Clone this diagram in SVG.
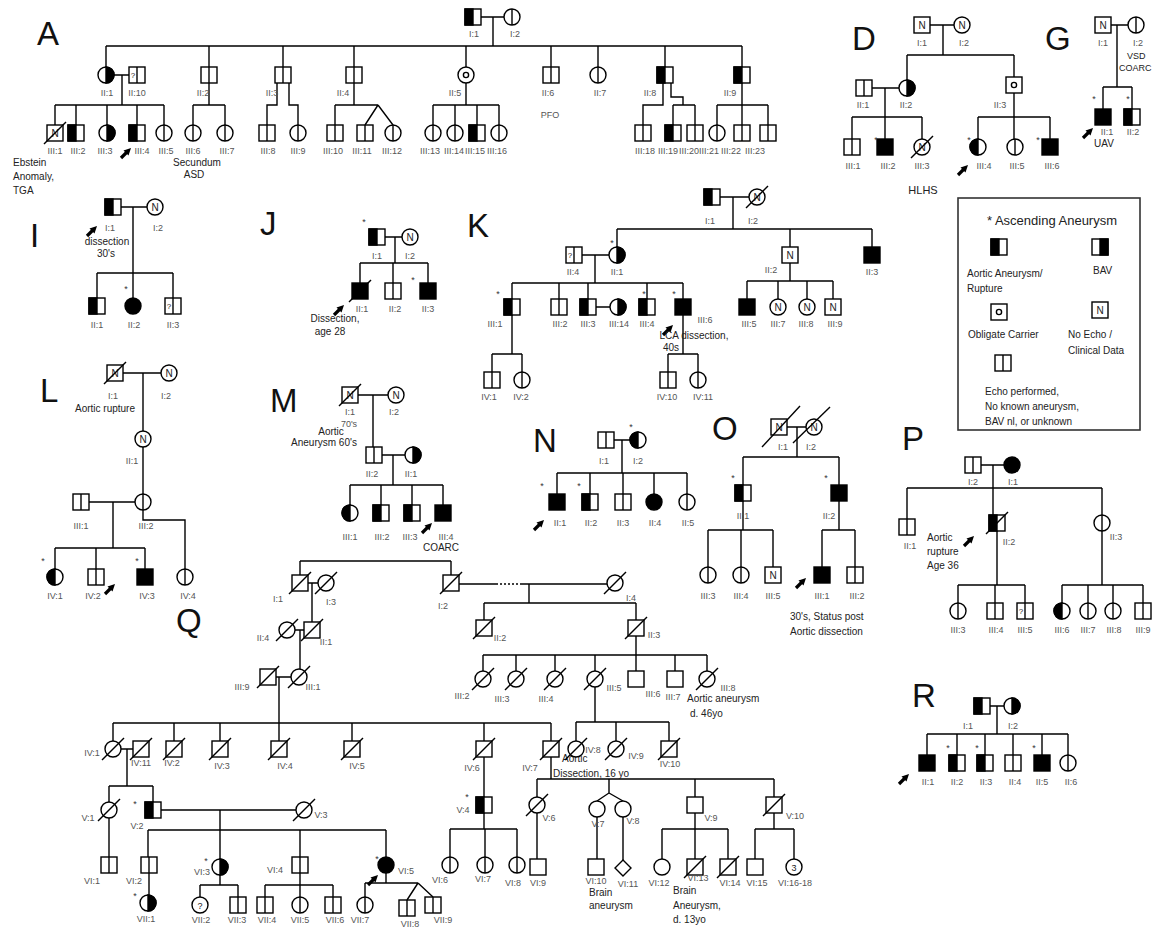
<svg xmlns="http://www.w3.org/2000/svg" width="1153" height="929" viewBox="0 0 1153 929">
<style>
.s{fill:#fff;stroke:#000;stroke-width:1.4}
.k{fill:#000;stroke:#000;stroke-width:1.4}
.ln{fill:none;stroke:#000;stroke-width:1.4}
.lb{font-family:"Liberation Sans",Arial,sans-serif;font-size:9px;fill:#555;text-anchor:middle}
.nt{font-family:"Liberation Sans",Arial,sans-serif;font-size:10px;fill:#222}
.ntc{font-family:"Liberation Sans",Arial,sans-serif;font-size:10px;fill:#222;text-anchor:middle}
.big{font-family:"Liberation Sans",Arial,sans-serif;font-size:33px;fill:#111}
.as{font-family:"Liberation Sans",Arial,sans-serif;font-size:9px;fill:#333;text-anchor:middle}
.in{font-family:"Liberation Sans",Arial,sans-serif;font-size:10px;fill:#222;text-anchor:middle}
</style>
<defs>
<g id="sq"><rect class="s" x="-8" y="-8" width="16" height="16"/></g>
<g id="sqV"><rect class="s" x="-8" y="-8" width="16" height="16"/><path class="ln" d="M0,-8V8"/></g>
<g id="sqQ"><rect class="s" x="-8" y="-8" width="16" height="16"/><path class="ln" d="M0,-8V8"/><text class="in" x="-4" y="3" style="font-size:8px">?</text></g>
<g id="sqL"><rect class="s" x="-8" y="-8" width="16" height="16"/><rect class="k" x="-8" y="-8" width="8" height="16"/></g>
<g id="sqR"><rect class="s" x="-8" y="-8" width="16" height="16"/><rect class="k" x="0" y="-8" width="8" height="16"/></g>
<g id="sqF"><rect class="k" x="-8" y="-8" width="16" height="16"/></g>
<g id="sqN"><rect class="s" x="-8" y="-8" width="16" height="16"/><text class="in" x="0" y="4">N</text></g>
<g id="sqO"><rect class="s" x="-8" y="-8" width="16" height="16"/><circle class="s" r="2.6"/></g>
<g id="ci"><circle class="s" r="8"/></g>
<g id="ciV"><circle class="s" r="8"/><path class="ln" d="M0,-8V8"/></g>
<g id="ciL"><circle class="s" r="8"/><path class="k" d="M0,-8A8,8 0 0 0 0,8Z"/></g>
<g id="ciR"><circle class="s" r="8"/><path class="k" d="M0,-8A8,8 0 0 1 0,8Z"/></g>
<g id="ciF"><circle class="k" r="8"/></g>
<g id="ciN"><circle class="s" r="8"/><text class="in" x="0" y="4">N</text></g>
<g id="ciO"><circle class="s" r="8"/><circle class="s" r="2.6"/></g>
<g id="ciQ"><circle class="s" r="8"/><text class="in" x="0" y="3.5" style="font-size:9px">?</text></g>
<g id="ci3"><circle class="s" r="8"/><text class="in" x="0" y="3.5" style="font-size:9px">3</text></g>
<g id="dm"><path class="s" d="M0,-8L8,0L0,8L-8,0Z"/></g>
<g id="x"><path class="ln" d="M-11,11L11,-11"/></g>
<g id="ar"><path d="M0,0L6,-6" stroke="#000" stroke-width="3.2" fill="none"/><polygon points="10,-10 2.5,-7.5 7.5,-2.5" fill="#000"/></g>
</defs>
<rect width="1153" height="929" fill="#fff"/>

<g id="connectors" class="ln">
<path d="M481,17H504M493,17V46M106,46H742M106,46V67M209,46V67M283,46V67M354,46V67M466,46V67M551,46V67M598,46V67M665,46V67M742,46V67"/>
<path d="M114,75H129M122,75V105M55,105H164M55,105V125M76,105V125M107,105V125M137,105V125M164,105V125"/>
<path d="M209,83V105M193,105H225M193,105V125M225,105V125M277,83V105H267V125M289,83V105H298V125"/>
<path d="M354,83V105M335,105H378M335,105V125M378,105L365,125M378,105L393,125"/>
<path d="M466,83V105M433,105H499M433,105V125M455,105V125M477,105V125M499,105V125"/>
<path d="M663,83V105H643V125M671,83V97H683V105M673,105H695M673,105V125M695,105V125M742,83V105M717,105H768M717,105V125M742,105V125M768,105V125"/>
<path d="M930,25H954M943,25V55M907,55H1014M907,55V80M1014,55V77M872,88H899M885,88V117M852,117H922M852,117V139M885,117V139M922,117V139M1014,93V117M978,117H1050M978,117V139M1014,117V139M1050,117V139"/>
<path d="M1111,25H1128M1117,25V87M1103,87H1132M1103,87V109M1132,87V109"/>
<path d="M121,207H147M133,207V273M97,273H173M97,273V298M133,273V298M173,273V298"/>
<path d="M385,237H402M395,237V263M360,263H428M360,263V283M393,263V283M428,263V283"/>
<path d="M720,197H749M733,197V229M617,229H872M617,229V247M790,229V247M872,229V247M582,255H609M595,255V283M512,283H683M512,283V299M559,283V299M588,283V299M647,283V299M683,283V299M596,307H610M512,315V354M492,354H522M492,354V372M522,354V372M683,315V354M668,354H698M668,354V372M698,354V372M790,263V281M747,281H833M747,281V299M778,281V299M807,281V299M833,281V299"/>
<path d="M123,373H161M143,373V431M143,447V494M89,502H135M113,502V548M55,548H145M55,548V569M96,548V569M145,548V569M143,510V520H185V569"/>
<path d="M358,395H388M373,395V447M382,455H405M393,455V485M350,485H443M350,485V505M381,485V505M412,485V505M443,485V505"/>
<path d="M614,440H630M622,440V473M557,473H687M557,473V494M590,473V494M623,473V494M654,473V494M687,473V494"/>
<path d="M787,427H806M797,427V457M743,457H839M743,457V485M839,457V485M743,501V530M708,530H773M708,530V567M741,530V567M773,530V567M839,501V530M822,530H855M822,530V567M855,530V567"/>
<path d="M981,465H1004M993,465V515M907,488H1102M907,488V519M1102,488V515M997,531V585M958,585H1025M958,585V603M995,585V603M1025,585V603M1102,531V585M1062,585H1143M1062,585V603M1088,585V603M1113,585V603M1143,585V603"/>
<path d="M990,706H1004M997,706V734M927,734H1068M927,734V755M957,734V755M985,734V755M1013,734V755M1042,734V755M1068,734V755"/>
<path d="M300,561H451M300,561V575M451,561V575M308,583H318M312,583V622M295,630H304M300,630V669M276,677H291M279,677V723"/>
<path d="M113,723H551M113,723V741M174,723V741M220,723V741M279,723V741M352,723V741M484,723V741M551,723V741"/>
<path d="M459,584H496M521,584H607M529,584V603M484,603H636M484,603V620M636,603V620"/>
<path d="M496,584H521" stroke-dasharray="2,2"/>
<path d="M636,636V655M483,655H707M483,655V671M516,655V671M555,655V671M595,655V671M636,655V671M675,655V671M707,655V671M595,687V722M576,722H669M576,722V741M616,722V741M669,722V741"/>
<path d="M121,749H133M127,749V786M109,786H153M109,786V802M153,786V802M161,810H296M220,810V859M148,830H386M148,830V857M300,830V857M386,830V857M109,818V857M149,873V895"/>
<path d="M220,875V885M200,885H238M200,885V897M238,885V897M300,873V897M265,885H333M265,885V897M333,885V897M386,873V883M365,883H418M365,883V897M418,883L407,900M418,883L433,897"/>
<path d="M484,757V797M484,813V829M450,829H517M450,829V857M485,829V857M517,829V857"/>
<path d="M551,757V779M537,779H774M537,779V797M609,779V793L597,801M609,793L623,801M695,779V797M774,779V797M537,813V859M597,817V859M623,817V860"/>
<path d="M695,813V829M662,829H728M662,829V859M695,829V859M728,829V859M774,813V829M755,829H794M755,829V859M794,829V859"/>
</g>

<g id="panel-labels" class="big">
<text x="37" y="45">A</text><text x="852" y="50">D</text><text x="1045" y="50">G</text><text x="30" y="247">I</text><text x="260" y="235">J</text><text x="467" y="237">K</text><text x="40" y="402">L</text><text x="270" y="412">M</text><text x="533" y="452">N</text><text x="712" y="440">O</text><text x="902" y="450">P</text><text x="176" y="632">Q</text><text x="912" y="707">R</text>
</g>

<!-- Panel A -->
<g id="A-I1"><use href="#sqL" x="473" y="17"/><text class="lb" x="474" y="37">I:1</text></g>
<g id="A-I2"><use href="#ciV" x="512" y="17"/><text class="lb" x="515" y="37">I:2</text></g>
<g id="A-II1"><use href="#ciR" x="106" y="75"/><text class="lb" x="107" y="96">II:1</text></g>
<g id="A-II10"><use href="#sqQ" x="137" y="75"/><text class="lb" x="137" y="96">II:10</text></g>
<g id="A-II2"><use href="#sqV" x="209" y="75"/><text class="lb" x="203" y="96">II:2</text></g>
<g id="A-II3"><use href="#sqV" x="283" y="75"/><text class="lb" x="272" y="96">II:3</text></g>
<g id="A-II4"><use href="#sqV" x="354" y="75"/><text class="lb" x="343" y="96">II:4</text></g>
<g id="A-II5"><use href="#ciO" x="466" y="75"/><text class="lb" x="455" y="96">II:5</text></g>
<g id="A-II6"><use href="#sqV" x="551" y="75"/><text class="lb" x="548" y="96">II:6</text><text class="lb" x="550" y="118">PFO</text></g>
<g id="A-II7"><use href="#ciV" x="598" y="75"/><text class="lb" x="600" y="96">II:7</text></g>
<g id="A-II8"><use href="#sqL" x="665" y="75"/><text class="lb" x="650" y="96">II:8</text></g>
<g id="A-II9"><use href="#sqL" x="742" y="75"/><text class="lb" x="730" y="96">II:9</text></g>
<g id="A-III1"><use href="#sqN" x="55" y="133"/><use href="#x" x="55" y="133"/><text class="lb" x="55" y="154">III:1</text></g>
<g id="A-III2"><use href="#sqL" x="76" y="133"/><text class="lb" x="78" y="154">III:2</text></g>
<g id="A-III3"><use href="#ciR" x="107" y="133"/><text class="lb" x="105" y="154">III:3</text></g>
<g id="A-III4"><use href="#sqL" x="137" y="133"/><use href="#ar" x="121" y="158"/><text class="lb" x="142" y="154">III:4</text></g>
<g id="A-III5"><use href="#ciV" x="164" y="133"/><text class="lb" x="166" y="154">III:5</text></g>
<g id="A-III6"><use href="#ciV" x="193" y="133"/><text class="lb" x="193" y="154">III:6</text></g>
<g id="A-III7"><use href="#ciV" x="225" y="133"/><text class="lb" x="227" y="154">III:7</text></g>
<g id="A-III8"><use href="#sqV" x="267" y="133"/><text class="lb" x="268" y="154">III:8</text></g>
<g id="A-III9"><use href="#ciV" x="298" y="133"/><text class="lb" x="298" y="154">III:9</text></g>
<g id="A-III10"><use href="#sqV" x="335" y="133"/><text class="lb" x="333" y="154">III:10</text></g>
<g id="A-III11"><use href="#sqV" x="365" y="133"/><text class="lb" x="362" y="154">III:11</text></g>
<g id="A-III12"><use href="#ciV" x="393" y="133"/><text class="lb" x="392" y="154">III:12</text></g>
<g id="A-III13"><use href="#ciV" x="433" y="133"/><text class="lb" x="430" y="154">III:13</text></g>
<g id="A-III14"><use href="#ciV" x="455" y="133"/><text class="lb" x="454" y="154">III:14</text></g>
<g id="A-III15"><use href="#sqL" x="477" y="133"/><text class="lb" x="475" y="154">III:15</text></g>
<g id="A-III16"><use href="#ciV" x="499" y="133"/><text class="lb" x="497" y="154">III:16</text></g>
<g id="A-III18"><use href="#sqV" x="643" y="133"/><text class="lb" x="645" y="154">III:18</text></g>
<g id="A-III19"><use href="#sqL" x="673" y="133"/><text class="lb" x="668" y="154">III:19</text></g>
<g id="A-III20"><use href="#sqV" x="695" y="133"/><text class="lb" x="689" y="154">III:20</text></g>
<g id="A-III21"><use href="#ciV" x="717" y="133"/><text class="lb" x="709" y="154">III:21</text></g>
<g id="A-III22"><use href="#sqV" x="742" y="133"/><text class="lb" x="731" y="154">III:22</text></g>
<g id="A-III23"><use href="#sqV" x="768" y="133"/><text class="lb" x="755" y="154">III:23</text></g>
<g id="A-notes"><text class="nt" x="13" y="166">Ebstein</text><text class="nt" x="13" y="180">Anomaly,</text><text class="nt" x="13" y="194">TGA</text><text class="ntc" x="197" y="166">Secundum</text><text class="ntc" x="194" y="178">ASD</text></g>

<!-- Panel D -->
<g id="D-I1"><use href="#sqN" x="922" y="25"/><text class="lb" x="922" y="46">I:1</text></g>
<g id="D-I2"><use href="#ciN" x="962" y="25"/><text class="lb" x="964" y="46">I:2</text></g>
<g id="D-II1"><use href="#sqV" x="864" y="88"/><text class="lb" x="863" y="108">II:1</text></g>
<g id="D-II2"><use href="#ciR" x="907" y="88"/><text class="lb" x="906" y="108">II:2</text></g>
<g id="D-II3"><use href="#sqO" x="1014" y="85"/><text class="lb" x="1000" y="108">II:3</text></g>
<g id="D-III1"><use href="#sqV" x="852" y="147"/><text class="lb" x="853" y="169">III:1</text></g>
<g id="D-III2"><use href="#sqF" x="885" y="147"/><text class="as" x="876" y="143">*</text><text class="lb" x="888" y="169">III:2</text></g>
<g id="D-III3"><use href="#ciN" x="922" y="147"/><use href="#x" x="922" y="147"/><text class="lb" x="922" y="169">III:3</text><text class="ntc" x="923" y="194" style="font-size:11px">HLHS</text></g>
<g id="D-III4"><use href="#ciL" x="978" y="147"/><text class="as" x="969" y="143">*</text><use href="#ar" x="958" y="175"/><text class="lb" x="984" y="169">III:4</text></g>
<g id="D-III5"><use href="#ciV" x="1015" y="147"/><text class="lb" x="1017" y="169">III:5</text></g>
<g id="D-III6"><use href="#sqF" x="1050" y="147"/><text class="as" x="1038" y="143">*</text><text class="lb" x="1052" y="169">III:6</text></g>

<!-- Panel G -->
<g id="G-I1"><use href="#sqN" x="1103" y="25"/><text class="lb" x="1103" y="46">I:1</text></g>
<g id="G-I2"><use href="#ciV" x="1136" y="25"/><text class="lb" x="1138" y="46">I:2</text><text class="nt" x="1127" y="59" style="font-size:9px">VSD</text><text class="nt" x="1119" y="71" style="font-size:9px">COARC</text></g>
<g id="G-II1"><use href="#sqF" x="1103" y="117"/><text class="as" x="1094" y="102">*</text><use href="#ar" x="1083" y="138"/><text class="lb" x="1107" y="135">II:1</text><text class="ntc" x="1104" y="147">UAV</text></g>
<g id="G-II2"><use href="#sqL" x="1132" y="117"/><text class="as" x="1128" y="102">*</text><text class="lb" x="1133" y="135">II:2</text></g>

<!-- Legend -->
<g id="legend">
<rect x="958" y="198" width="182" height="232" fill="none" stroke="#333" stroke-width="1.6"/>
<text class="ntc" x="1052" y="225" style="font-size:13px">* Ascending Aneurysm</text>
<use href="#sqL" x="999" y="247"/><use href="#sqR" x="1100" y="247"/>
<text class="nt" x="967" y="277">Aortic Aneurysm/</text><text class="nt" x="967" y="292">Rupture</text>
<text class="nt" x="1093" y="274">BAV</text>
<use href="#sqO" x="999" y="312"/><use href="#sqN" x="1100" y="310"/>
<text class="nt" x="968" y="338">Obligate Carrier</text>
<text class="nt" x="1068" y="338">No Echo /</text><text class="nt" x="1068" y="354">Clinical Data</text>
<use href="#sqV" x="1003" y="363"/>
<text class="nt" x="985" y="395">Echo performed,</text><text class="nt" x="985" y="410">No known aneurysm,</text><text class="nt" x="985" y="425">BAV nl, or unknown</text>
</g>

<!-- Panel I -->
<g id="I-I1"><use href="#sqL" x="113" y="207"/><use href="#ar" x="87" y="236"/><text class="lb" x="110" y="231">I:1</text><text class="ntc" x="107" y="245">dissection</text><text class="ntc" x="106" y="257">30's</text></g>
<g id="I-I2"><use href="#ciN" x="155" y="207"/><text class="lb" x="158" y="231">I:2</text></g>
<g id="I-II1"><use href="#sqL" x="97" y="306"/><text class="lb" x="97" y="328">II:1</text></g>
<g id="I-II2"><use href="#ciF" x="133" y="306"/><text class="as" x="126" y="292">*</text><text class="lb" x="134" y="328">II:2</text></g>
<g id="I-II3"><use href="#sqQ" x="173" y="306"/><text class="lb" x="173" y="328">II:3</text></g>

<!-- Panel J -->
<g id="J-I1"><use href="#sqL" x="377" y="237"/><text class="as" x="364" y="225">*</text><text class="lb" x="377" y="259">I:1</text></g>
<g id="J-I2"><use href="#ciN" x="410" y="237"/><text class="lb" x="410" y="259">I:2</text></g>
<g id="J-II1"><use href="#sqF" x="360" y="291"/><use href="#x" x="360" y="291"/><use href="#ar" x="334" y="315"/><text class="lb" x="362" y="312">II:1</text><text class="ntc" x="335" y="322">Dissection,</text><text class="ntc" x="330" y="335">age 28</text></g>
<g id="J-II2"><use href="#sqV" x="393" y="291"/><text class="lb" x="395" y="312">II:2</text></g>
<g id="J-II3"><use href="#sqF" x="428" y="291"/><text class="as" x="413" y="283">*</text><text class="lb" x="428" y="312">II:3</text></g>

<!-- Panel K -->
<g id="K-I1"><use href="#sqL" x="712" y="197"/><text class="lb" x="710" y="224">I:1</text></g>
<g id="K-I2"><use href="#ciN" x="757" y="197"/><use href="#x" x="757" y="197"/><text class="lb" x="753" y="224">I:2</text></g>
<g id="K-II4"><use href="#sqQ" x="574" y="255"/><text class="lb" x="573" y="275">II:4</text></g>
<g id="K-II1"><use href="#ciR" x="617" y="255"/><text class="as" x="612" y="246">*</text><text class="lb" x="617" y="275">II:1</text></g>
<g id="K-III1"><use href="#sqL" x="512" y="307"/><text class="as" x="498" y="297">*</text><text class="lb" x="495" y="327">III:1</text></g>
<g id="K-III2"><use href="#sqV" x="559" y="307"/><text class="lb" x="560" y="327">III:2</text></g>
<g id="K-III3"><use href="#sqL" x="588" y="307"/><text class="lb" x="588" y="327">III:3</text></g>
<g id="K-III14"><use href="#ciR" x="618" y="307"/><text class="lb" x="619" y="327">III:14</text></g>
<g id="K-III4"><use href="#sqL" x="647" y="307"/><text class="as" x="644" y="297">*</text><text class="lb" x="647" y="327">III:4</text></g>
<g id="K-III6"><use href="#sqF" x="683" y="307"/><text class="as" x="674" y="297">*</text><use href="#ar" x="663" y="335"/><text class="lb" x="705" y="323">III:6</text><text class="ntc" x="694" y="339">LCA dissection,</text><text class="ntc" x="671" y="351">40s</text></g>
<g id="K-IV1"><use href="#sqV" x="492" y="380"/><text class="lb" x="489" y="400">IV:1</text></g>
<g id="K-IV2"><use href="#ciV" x="522" y="380"/><text class="lb" x="521" y="400">IV:2</text></g>
<g id="K-IV10"><use href="#sqV" x="668" y="380"/><text class="lb" x="667" y="400">IV:10</text></g>
<g id="K-IV11"><use href="#ciV" x="698" y="380"/><text class="lb" x="703" y="400">IV:11</text></g>
<g id="K-II2"><use href="#sqN" x="790" y="255"/><text class="lb" x="771" y="273">II:2</text></g>
<g id="K-III5"><use href="#sqF" x="747" y="307"/><text class="lb" x="749" y="327">III:5</text></g>
<g id="K-III7"><use href="#ciN" x="778" y="307"/><text class="lb" x="778" y="327">III:7</text></g>
<g id="K-III8"><use href="#ciN" x="807" y="307"/><text class="lb" x="806" y="327">III:8</text></g>
<g id="K-III9"><use href="#sqN" x="833" y="307"/><text class="lb" x="835" y="327">III:9</text></g>
<g id="K-II3"><use href="#sqF" x="872" y="255"/><text class="lb" x="872" y="275">II:3</text></g>

<!-- Panel L -->
<g id="L-I1"><use href="#sqN" x="115" y="373"/><use href="#x" x="115" y="373"/><text class="lb" x="113" y="399">I:1</text><text class="ntc" x="105" y="412">Aortic rupture</text></g>
<g id="L-I2"><use href="#ciN" x="169" y="373"/><text class="lb" x="166" y="399">I:2</text></g>
<g id="L-II1"><use href="#ciN" x="143" y="439"/><text class="lb" x="132" y="464">II:1</text></g>
<g id="L-III1"><use href="#sqV" x="81" y="502"/><text class="lb" x="81" y="529">III:1</text></g>
<g id="L-III2"><use href="#ciV" x="143" y="502"/><text class="lb" x="146" y="529">III:2</text></g>
<g id="L-IV1"><use href="#ciL" x="55" y="577"/><text class="as" x="43" y="564">*</text><text class="lb" x="55" y="599">IV:1</text></g>
<g id="L-IV2"><use href="#sqV" x="96" y="577"/><text class="lb" x="93" y="599">IV:2</text></g>
<g id="L-IV3"><use href="#sqF" x="145" y="577"/><text class="as" x="137" y="564">*</text><use href="#ar" x="105" y="594"/><text class="lb" x="147" y="599">IV:3</text></g>
<g id="L-IV4"><use href="#ciV" x="185" y="577"/><text class="lb" x="188" y="599">IV:4</text></g>

<!-- Panel M -->
<g id="M-I1"><use href="#sqN" x="350" y="395"/><use href="#x" x="350" y="395"/><text class="lb" x="350" y="415">I:1</text><text class="lb" x="349" y="427">70's</text><text class="ntc" x="331" y="435">Aortic</text><text class="ntc" x="324" y="446">Aneurysm 60's</text></g>
<g id="M-I2"><use href="#ciN" x="396" y="395"/><text class="lb" x="394" y="415">I:2</text></g>
<g id="M-II2"><use href="#sqV" x="374" y="455"/><text class="lb" x="372" y="477">II:2</text></g>
<g id="M-II1"><use href="#ciR" x="413" y="455"/><text class="lb" x="411" y="477">II:1</text></g>
<g id="M-III1"><use href="#ciL" x="350" y="513"/><text class="lb" x="350" y="540">III:1</text></g>
<g id="M-III2"><use href="#sqL" x="381" y="513"/><text class="lb" x="382" y="540">III:2</text></g>
<g id="M-III3"><use href="#sqL" x="412" y="513"/><text class="lb" x="410" y="540">III:3</text></g>
<g id="M-III4"><use href="#sqF" x="443" y="513"/><use href="#ar" x="422" y="533"/><text class="lb" x="446" y="540">III:4</text><text class="ntc" x="441" y="551">COARC</text></g>

<!-- Panel N -->
<g id="N-I1"><use href="#sqV" x="606" y="440"/><text class="lb" x="604" y="464">I:1</text></g>
<g id="N-I2"><use href="#ciL" x="638" y="440"/><text class="as" x="631" y="430">*</text><text class="lb" x="638" y="464">I:2</text></g>
<g id="N-II1"><use href="#sqF" x="557" y="502"/><text class="as" x="542" y="489">*</text><use href="#ar" x="534" y="530"/><text class="lb" x="560" y="526">II:1</text></g>
<g id="N-II2"><use href="#sqL" x="590" y="502"/><text class="as" x="579" y="489">*</text><text class="lb" x="591" y="526">II:2</text></g>
<g id="N-II3"><use href="#sqV" x="623" y="502"/><text class="lb" x="623" y="526">II:3</text></g>
<g id="N-II4"><use href="#ciF" x="654" y="502"/><text class="lb" x="655" y="526">II:4</text></g>
<g id="N-II5"><use href="#ciV" x="687" y="502"/><text class="lb" x="688" y="526">II:5</text></g>

<!-- Panel O -->
<g id="O-I1"><use href="#sqN" x="779" y="427"/><path class="ln" d="M762,447L800,406"/><text class="lb" x="783" y="450">I:1</text></g>
<g id="O-I2"><use href="#ciN" x="814" y="427"/><path class="ln" d="M793,443L830,407"/><text class="lb" x="811" y="450">I:2</text></g>
<g id="O-II1"><use href="#sqL" x="743" y="493"/><text class="as" x="733" y="481">*</text><text class="lb" x="743" y="519">II:1</text></g>
<g id="O-II2"><use href="#sqF" x="839" y="493"/><text class="as" x="826" y="481">*</text><text class="lb" x="829" y="519">II:2</text></g>
<g id="O-III3"><use href="#ciV" x="708" y="575"/><text class="lb" x="708" y="599">III:3</text></g>
<g id="O-III4"><use href="#ciV" x="741" y="575"/><text class="lb" x="741" y="599">III:4</text></g>
<g id="O-III5"><use href="#sqN" x="773" y="575"/><text class="lb" x="773" y="599">III:5</text></g>
<g id="O-III1"><use href="#sqF" x="822" y="575"/><use href="#ar" x="796" y="588"/><text class="lb" x="822" y="599">III:1</text><text class="nt" x="790" y="620">30's, Status post</text><text class="nt" x="790" y="635">Aortic dissection</text></g>
<g id="O-III2"><use href="#sqV" x="855" y="575"/><text class="lb" x="857" y="599">III:2</text></g>

<!-- Panel P -->
<g id="P-I2"><use href="#sqV" x="973" y="465"/><text class="lb" x="973" y="485">I:2</text></g>
<g id="P-I1"><use href="#ciF" x="1012" y="465"/><text class="lb" x="1013" y="485">I:1</text></g>
<g id="P-II1"><use href="#sqV" x="907" y="527"/><text class="lb" x="910" y="549">II:1</text></g>
<g id="P-II2"><use href="#sqL" x="997" y="523"/><use href="#x" x="997" y="523"/><use href="#ar" x="964" y="546"/><text class="lb" x="1009" y="545">II:2</text><text class="nt" x="927" y="541">Aortic</text><text class="nt" x="927" y="555">rupture</text><text class="nt" x="927" y="569">Age 36</text></g>
<g id="P-II3"><use href="#ciV" x="1102" y="523"/><text class="lb" x="1116" y="540">II:3</text></g>
<g id="P-III3"><use href="#ciV" x="958" y="611"/><text class="lb" x="958" y="633">III:3</text></g>
<g id="P-III4"><use href="#sqV" x="995" y="611"/><text class="lb" x="996" y="633">III:4</text></g>
<g id="P-III5"><use href="#sqQ" x="1025" y="611"/><text class="lb" x="1025" y="633">III:5</text></g>
<g id="P-III6"><use href="#ciL" x="1062" y="611"/><text class="lb" x="1062" y="633">III:6</text></g>
<g id="P-III7"><use href="#ciV" x="1088" y="611"/><text class="lb" x="1088" y="633">III:7</text></g>
<g id="P-III8"><use href="#ciV" x="1113" y="611"/><text class="lb" x="1114" y="633">III:8</text></g>
<g id="P-III9"><use href="#sqV" x="1143" y="611"/><text class="lb" x="1143" y="633">III:9</text></g>

<!-- Panel R -->
<g id="R-I1"><use href="#sqL" x="982" y="706"/><text class="lb" x="968" y="729">I:1</text></g>
<g id="R-I2"><use href="#ciR" x="1012" y="706"/><text class="lb" x="1013" y="729">I:2</text></g>
<g id="R-II1"><use href="#sqF" x="927" y="763"/><use href="#ar" x="899" y="784"/><text class="lb" x="928" y="785">II:1</text></g>
<g id="R-II2"><use href="#sqL" x="957" y="763"/><text class="as" x="948" y="751">*</text><text class="lb" x="957" y="785">II:2</text></g>
<g id="R-II3"><use href="#sqL" x="985" y="763"/><text class="as" x="977" y="751">*</text><text class="lb" x="986" y="785">II:3</text></g>
<g id="R-II4"><use href="#sqV" x="1013" y="763"/><text class="lb" x="1015" y="785">II:4</text></g>
<g id="R-II5"><use href="#sqF" x="1042" y="763"/><text class="as" x="1034" y="751">*</text><text class="lb" x="1042" y="785">II:5</text></g>
<g id="R-II6"><use href="#ciV" x="1068" y="763"/><text class="lb" x="1071" y="785">II:6</text></g>

<!-- Panel Q -->
<g id="Q-I1"><use href="#sq" x="300" y="583"/><use href="#x" x="300" y="583"/><text class="lb" x="278" y="602">I:1</text></g>
<g id="Q-I3"><use href="#ci" x="326" y="583"/><use href="#x" x="326" y="583"/><text class="lb" x="331" y="605">I:3</text></g>
<g id="Q-II4"><use href="#ci" x="287" y="630"/><use href="#x" x="287" y="630"/><text class="lb" x="263" y="641">II:4</text></g>
<g id="Q-II1"><use href="#sq" x="312" y="630"/><use href="#x" x="312" y="630"/><text class="lb" x="326" y="645">II:1</text></g>
<g id="Q-III9"><use href="#sq" x="268" y="677"/><use href="#x" x="268" y="677"/><text class="lb" x="242" y="690">III:9</text></g>
<g id="Q-III1"><use href="#ci" x="299" y="677"/><use href="#x" x="299" y="677"/><text class="lb" x="313" y="690">III:1</text></g>
<g id="Q-I2"><use href="#sq" x="451" y="583"/><use href="#x" x="451" y="583"/><text class="lb" x="443" y="609">I:2</text></g>
<g id="Q-I4"><use href="#ci" x="615" y="583"/><use href="#x" x="615" y="583"/><text class="lb" x="631" y="601">I:4</text></g>
<g id="Q-II2"><use href="#sq" x="484" y="628"/><use href="#x" x="484" y="628"/><text class="lb" x="500" y="641">II:2</text></g>
<g id="Q-II3"><use href="#sq" x="636" y="628"/><use href="#x" x="636" y="628"/><text class="lb" x="654" y="638">II:3</text></g>
<g id="Q-III2"><use href="#ci" x="483" y="679"/><use href="#x" x="483" y="679"/><text class="lb" x="462" y="699">III:2</text></g>
<g id="Q-III3"><use href="#ci" x="516" y="679"/><use href="#x" x="516" y="679"/><text class="lb" x="502" y="702">III:3</text></g>
<g id="Q-III4"><use href="#ci" x="555" y="679"/><use href="#x" x="555" y="679"/><text class="lb" x="546" y="702">III:4</text></g>
<g id="Q-III5"><use href="#ci" x="595" y="679"/><use href="#x" x="595" y="679"/><text class="lb" x="614" y="691">III:5</text></g>
<g id="Q-III6"><use href="#sq" x="636" y="679"/><text class="lb" x="653" y="697">III:6</text></g>
<g id="Q-III7"><use href="#sq" x="675" y="679"/><text class="lb" x="673" y="700">III:7</text></g>
<g id="Q-III8"><use href="#ci" x="707" y="679"/><use href="#x" x="707" y="679"/><text class="lb" x="728" y="691">III:8</text><text class="nt" x="687" y="702">Aortic aneurysm</text><text class="nt" x="690" y="717">d. 46yo</text></g>
<g id="Q-IV1"><use href="#ci" x="113" y="749"/><use href="#x" x="113" y="749"/><text class="lb" x="92" y="756">IV:1</text></g>
<g id="Q-IV11"><use href="#sq" x="141" y="749"/><use href="#x" x="141" y="749"/><text class="lb" x="141" y="766">IV:11</text></g>
<g id="Q-IV2"><use href="#sq" x="174" y="749"/><use href="#x" x="174" y="749"/><text class="lb" x="172" y="766">IV:2</text></g>
<g id="Q-IV3"><use href="#sq" x="220" y="749"/><use href="#x" x="220" y="749"/><text class="lb" x="222" y="769">IV:3</text></g>
<g id="Q-IV4"><use href="#sq" x="279" y="749"/><use href="#x" x="279" y="749"/><text class="lb" x="285" y="769">IV:4</text></g>
<g id="Q-IV5"><use href="#sq" x="352" y="749"/><use href="#x" x="352" y="749"/><text class="lb" x="357" y="769">IV:5</text></g>
<g id="Q-IV6"><use href="#sq" x="484" y="749"/><use href="#x" x="484" y="749"/><text class="lb" x="472" y="771">IV:6</text></g>
<g id="Q-IV7"><use href="#sq" x="551" y="749"/><use href="#x" x="551" y="749"/><text class="lb" x="530" y="771">IV:7</text><text class="nt" x="562" y="762">Aortic</text><text class="nt" x="553" y="777">Dissection, 16 yo</text></g>
<g id="Q-IV8"><use href="#ci" x="576" y="749"/><use href="#x" x="576" y="749"/><text class="lb" x="593" y="753">IV:8</text></g>
<g id="Q-IV9"><use href="#ci" x="616" y="749"/><use href="#x" x="616" y="749"/><text class="lb" x="636" y="759">IV:9</text></g>
<g id="Q-IV10"><use href="#sq" x="669" y="749"/><use href="#x" x="669" y="749"/><text class="lb" x="670" y="767">IV:10</text></g>
<g id="Q-V1"><use href="#ci" x="109" y="810"/><use href="#x" x="109" y="810"/><text class="lb" x="88" y="821">V:1</text></g>
<g id="Q-V2"><use href="#sqL" x="153" y="810"/><text class="as" x="135" y="807">*</text><text class="lb" x="137" y="829">V:2</text></g>
<g id="Q-V3"><use href="#ci" x="304" y="810"/><use href="#x" x="304" y="810"/><text class="lb" x="321" y="818">V:3</text></g>
<g id="Q-V4"><use href="#sqL" x="484" y="805"/><text class="as" x="467" y="800">*</text><text class="lb" x="463" y="813">V:4</text></g>
<g id="Q-V6"><use href="#ci" x="537" y="805"/><use href="#x" x="537" y="805"/><text class="lb" x="549" y="821">V:6</text></g>
<g id="Q-V7"><use href="#ci" x="597" y="809"/><text class="lb" x="598" y="827">V:7</text></g>
<g id="Q-V8"><use href="#ci" x="623" y="809"/><text class="lb" x="633" y="824">V:8</text></g>
<g id="Q-V9"><use href="#sq" x="695" y="805"/><text class="lb" x="711" y="821">V:9</text></g>
<g id="Q-V10"><use href="#sq" x="774" y="805"/><use href="#x" x="774" y="805"/><text class="lb" x="795" y="819">V:10</text></g>
<g id="Q-VI1"><use href="#sqV" x="109" y="865"/><text class="lb" x="92" y="884">VI:1</text></g>
<g id="Q-VI2"><use href="#sqV" x="149" y="865"/><text class="lb" x="134" y="884">VI:2</text></g>
<g id="Q-VI3"><use href="#ciR" x="220" y="867"/><text class="as" x="206" y="864">*</text><text class="lb" x="202" y="875">VI:3</text></g>
<g id="Q-VI4"><use href="#sqV" x="300" y="865"/><text class="lb" x="275" y="873">VI:4</text></g>
<g id="Q-VI5"><use href="#ciF" x="386" y="865"/><text class="as" x="377" y="862">*</text><use href="#ar" x="368" y="885"/><text class="lb" x="406" y="874">VI:5</text></g>
<g id="Q-VI6"><use href="#ciV" x="450" y="865"/><text class="lb" x="440" y="883">VI:6</text></g>
<g id="Q-VI7"><use href="#ciV" x="485" y="865"/><text class="lb" x="483" y="882">VI:7</text></g>
<g id="Q-VI8"><use href="#ciV" x="517" y="865"/><text class="lb" x="513" y="886">VI:8</text></g>
<g id="Q-VI9"><use href="#sq" x="538" y="867"/><text class="lb" x="538" y="886">VI:9</text></g>
<g id="Q-VI10"><use href="#sq" x="596" y="867"/><text class="lb" x="596" y="884">VI:10</text><text class="nt" x="589" y="896">Brain</text><text class="nt" x="589" y="909">aneurysm</text></g>
<g id="Q-VI11"><use href="#dm" x="623" y="868"/><text class="lb" x="628" y="887">VI:11</text></g>
<g id="Q-VI12"><use href="#ci" x="662" y="867"/><text class="lb" x="659" y="886">VI:12</text></g>
<g id="Q-VI13"><use href="#sq" x="695" y="867"/><use href="#x" x="695" y="867"/><text class="lb" x="698" y="881">VI:13</text><text class="nt" x="673" y="894">Brain</text><text class="nt" x="673" y="909">Aneurysm,</text><text class="nt" x="673" y="923">d. 13yo</text></g>
<g id="Q-VI14"><use href="#sq" x="728" y="867"/><use href="#x" x="728" y="867"/><text class="lb" x="730" y="886">VI:14</text></g>
<g id="Q-VI15"><use href="#sq" x="755" y="867"/><text class="lb" x="757" y="886">VI:15</text></g>
<g id="Q-VI16-18"><use href="#ci3" x="794" y="867"/><text class="lb" x="795" y="886">VI:16-18</text></g>
<g id="Q-VII1"><use href="#ciR" x="148" y="903"/><text class="as" x="135" y="899">*</text><text class="lb" x="146" y="922">VII:1</text></g>
<g id="Q-VII2"><use href="#ciQ" x="200" y="905"/><text class="lb" x="201" y="923">VII:2</text></g>
<g id="Q-VII3"><use href="#sqV" x="238" y="905"/><text class="lb" x="237" y="923">VII:3</text></g>
<g id="Q-VII4"><use href="#sqV" x="265" y="905"/><text class="lb" x="267" y="923">VII:4</text></g>
<g id="Q-VII5"><use href="#ciV" x="300" y="905"/><text class="lb" x="300" y="923">VII:5</text></g>
<g id="Q-VII6"><use href="#sqV" x="333" y="905"/><text class="lb" x="335" y="923">VII:6</text></g>
<g id="Q-VII7"><use href="#ciV" x="365" y="905"/><text class="lb" x="360" y="923">VII:7</text></g>
<g id="Q-VII8"><use href="#sqV" x="407" y="908"/><text class="lb" x="410" y="927">VII:8</text></g>
<g id="Q-VII9"><use href="#sqV" x="433" y="905"/><text class="lb" x="443" y="923">VII:9</text></g>
</svg>
